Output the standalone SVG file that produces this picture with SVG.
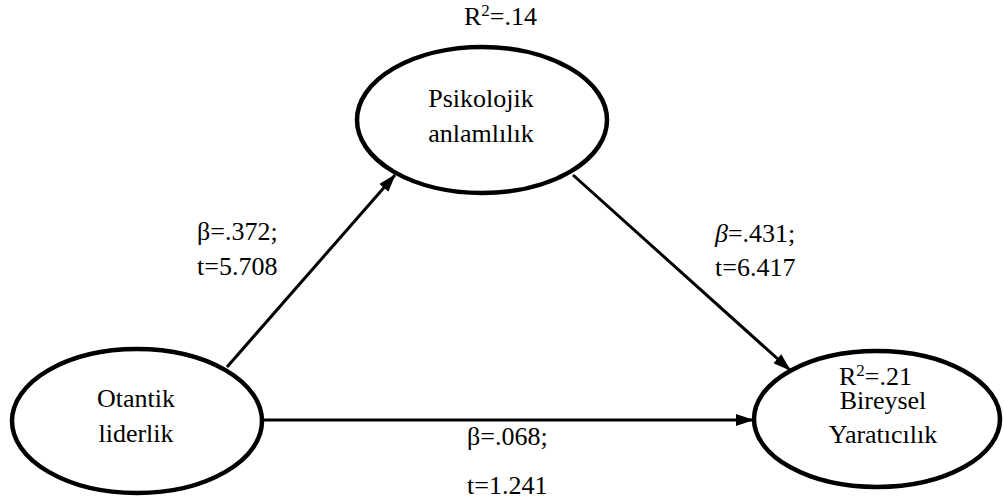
<svg xmlns="http://www.w3.org/2000/svg" width="1004" height="498" viewBox="0 0 1004 498">
<defs>
<marker id="ah" viewBox="0 0 18 12" refX="17" refY="6" markerWidth="18" markerHeight="12" markerUnits="userSpaceOnUse" orient="auto"><path d="M0,0 L18,6 L0,12 z" fill="#000"/></marker>
</defs>
<rect width="1004" height="498" fill="#fff"/>
<g id="connectors" stroke="#000" stroke-width="3" fill="none">
<line marker-end="url(#ah)" x1="227" y1="367" x2="395" y2="175"/>
<line marker-end="url(#ah)" x1="573" y1="175" x2="790" y2="370"/>
<line marker-end="url(#ah)" x1="263" y1="420" x2="753" y2="420"/>
</g>
<g id="psikolojik">
<ellipse fill="#fff" stroke="#000" stroke-width="4.5" cx="482" cy="120" rx="125" ry="73"/>
<text font-family="Liberation Serif, serif" font-size="26" text-anchor="middle" x="481" y="107">Psikolojik</text>
<text font-family="Liberation Serif, serif" font-size="26" text-anchor="middle" x="481" y="142">anlamlılık</text>
</g>
<g id="otantik">
<ellipse fill="#fff" stroke="#000" stroke-width="4.5" cx="137" cy="421" rx="125" ry="72"/>
<text font-family="Liberation Serif" font-size="26" text-anchor="middle" x="136" y="407">Otantik</text>
<text font-family="Liberation Serif" font-size="26" text-anchor="middle" x="136" y="442">liderlik</text>
</g>
<g id="bireysel">
<ellipse fill="#fff" stroke="#000" stroke-width="4.5" cx="877" cy="419" rx="123" ry="68"/>
<text font-family="'Liberation Serif', serif" font-size="26" text-anchor="middle" x="883" y="409">Bireysel</text>
<text font-family="'Liberation Serif', serif" font-size="26" text-anchor="middle" x="883" y="443">Yaratıcılık</text>
</g>
<g id="labels">
<text font-family="'Liberation Serif', serif" font-size="26" x="464" y="25">R<tspan font-size="17" dy="-9">2</tspan><tspan dy="9">=.14</tspan></text>
<text font-family="'Liberation Serif', serif" font-size="26" x="839" y="385">R<tspan font-size="17" dy="-9">2</tspan><tspan dy="9">=.21</tspan></text>
<text font-family="'Liberation Serif', serif" font-size="26" x="197" y="240">β=.372;</text>
<text font-family="'Liberation Serif', serif" font-size="26" x="197" y="275">t=5.708</text>
<text font-family="'Liberation Serif', serif" font-size="26" x="715" y="242"><tspan font-style="italic">β</tspan>=.431;</text>
<text font-family="'Liberation Serif', serif" font-size="26" x="715" y="276">t=6.417</text>
<text font-family="'Liberation Serif', serif" font-size="26" x="467" y="445">β=.068;</text>
<text font-family="'Liberation Serif', serif" font-size="26" x="467" y="494">t=1.241</text>
</g>
</svg>
